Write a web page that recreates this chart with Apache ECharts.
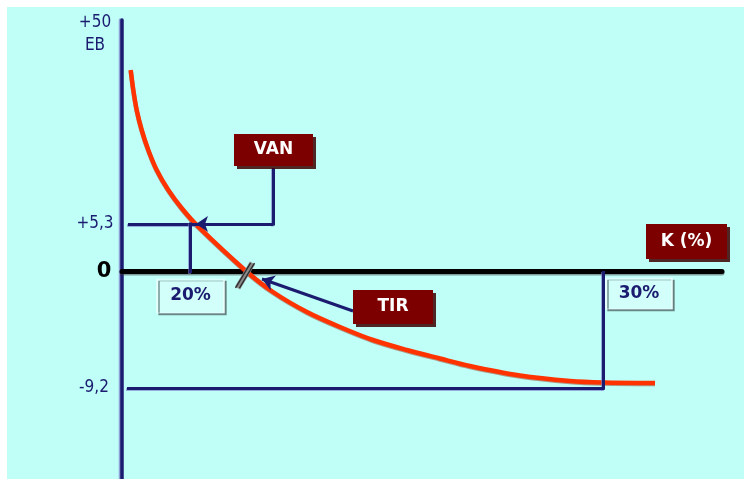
<!DOCTYPE html>
<html>
<head>
<meta charset="utf-8">
<script src="https://cdn.jsdelivr.net/npm/echarts@6/dist/echarts.min.js"></script>
<style>
  html, body { margin: 0; padding: 0; background: #ffffff; }
  #chart { position: absolute; left: 7px; top: 7px; width: 737px; height: 472px; }
</style>
</head>
<body>
<div id="chart"></div>
<script>
// VAN (net present value) against the discount rate K, drawn in schematic diagram units:
// x grows to the right from the EB axis, y grows upward from the zero line.
const curveK   = [8.7, 11.3, 14.7, 19.7, 26.3, 34.7, 46.3, 60, 76.3, 124, 151, 185, 218, 251, 285, 318, 348, 398, 448, 481, 533];
const curveVan = [201, 181, 161, 141, 121, 101, 81, 62.5, 44.3, 0, -21, -41, -56, -69, -79, -87.5, -95, -104.5, -110, -111.5, -112];

// Reference levels of the diagram
const vanAt20 = 47;     // level marked +5,3
const vanAt30 = -117;   // level marked -9,2
const k20 = 68;         // rate marked 20%
const k30 = 481;        // rate marked 30%

// Axis texts and their anchors
const axisTexts   = ['+50', 'EB', '+5,3', '0', '-9,2'];
const axisAnchors = [[-27, 248.5], [-27, 225], [-27, vanAt20], [-18, -1], [-28, vanAt30]];

// Callout boxes
const boxTexts   = ['VAN', 'TIR', 'K (%)', '20%', '30%'];
const boxAnchors = [[151.5, 121], [271, -36], [564.5, 29.5], [68.5, -25], [517, -22.5]];
const boxSizes   = [[79, 32], [80, 34], [81, 35], [67, 34], [66, 31]];
const boxDark    = [true, true, true, false, false];

const navy = '#1b1b6f';

const chart = echarts.init(document.getElementById('chart'), null, { renderer: 'canvas' });

const curveData = curveK.map((k, i) => [k, curveVan[i]]);

// Leader lines without arrows
const leaderSegments = [
  [[151, 103], [151, vanAt20 - 1.5]],
  [[75, vanAt20], [6, vanAt20]],
  [[k20, vanAt20 + 1.5], [k20, -2]],
  [[k30, 0], [k30, vanAt30 - 1.5]],
  [[k30 + 1.5, vanAt30], [5, vanAt30]]
];
// Leader lines ending in an arrow head
const arrowSegments = [
  [[151, vanAt20], [74, vanAt20]],
  [[231, -40], [140, -8]]
];
// Double stroke marking the crossing point (TIR)
const hashSegments = [
  [[113.5, -17], [128.5, 8]],
  [[117.5, -17], [132.5, 8]]
];

const boxData = boxTexts.map((t, i) => {
  const dark = boxDark[i];
  return {
    value: [boxAnchors[i][0], boxAnchors[i][1], t],
    symbolSize: boxSizes[i],
    itemStyle: dark ? {
      color: '#7d0000',
      opacity: 1,
      shadowColor: 'rgba(60,0,0,0.85)',
      shadowBlur: 0,
      shadowOffsetX: 3,
      shadowOffsetY: 3
    } : {
      color: '#d3fffb',
      opacity: 1,
      borderColor: '#eefffe',
      borderWidth: 1,
      shadowColor: 'rgba(95,120,120,0.85)',
      shadowBlur: 0,
      shadowOffsetX: 2,
      shadowOffsetY: 2
    },
    label: {
      color: dark ? '#ffffff' : '#1b1b6f'
    }
  };
});

const option = {
  backgroundColor: '#bffff8',
  animation: false,
  grid: { left: 115, right: 22, top: 13, bottom: 0, containLabel: false },
  xAxis: {
    type: 'value', min: 0, max: 600,
    axisLine: { onZero: true, lineStyle: { color: '#000000', width: 5, cap: 'round',
      shadowColor: 'rgba(60,60,60,0.5)', shadowOffsetY: 1.5, shadowBlur: 0 } },
    axisTick: { show: false }, axisLabel: { show: false }, splitLine: { show: false }
  },
  yAxis: {
    type: 'value', min: -208, max: 251,
    axisLine: { show: true, onZero: false, lineStyle: { color: navy, width: 3.5,
      shadowColor: 'rgba(120,120,200,0.7)', shadowOffsetX: -1.5, shadowBlur: 0 } },
    axisTick: { show: false }, axisLabel: { show: false }, splitLine: { show: false }
  },
  series: [
    {
      name: 'VAN',
      type: 'line',
      data: curveData,
      smooth: 0.3,
      symbol: 'none',
      clip: false,
      lineStyle: { color: '#ff3300', width: 4.5,
        shadowColor: 'rgba(150,30,0,0.45)', shadowOffsetY: 1, shadowBlur: 0 },
      z: 3
    },
    {
      type: 'lines',
      coordinateSystem: 'cartesian2d',
      symbol: ['none', 'none'],
      lineStyle: { color: navy, width: 3, opacity: 1, curveness: 0,
        shadowColor: 'rgba(120,120,200,0.6)', shadowOffsetY: 1, shadowOffsetX: -1, shadowBlur: 0 },
      data: leaderSegments.map(c => ({ coords: c })),
      z: 4
    },
    {
      type: 'lines',
      coordinateSystem: 'cartesian2d',
      symbol: ['none', 'arrow'],
      symbolSize: 12,
      lineStyle: { color: navy, width: 3, opacity: 1, curveness: 0 },
      data: arrowSegments.map(c => ({ coords: c })),
      z: 5
    },
    {
      type: 'lines',
      coordinateSystem: 'cartesian2d',
      symbol: ['none', 'none'],
      lineStyle: { color: '#8a8a8a', width: 6, opacity: 1, curveness: 0 },
      data: [{ coords: [[115.5, -17], [130.5, 8]] }],
      z: 5
    },
    {
      type: 'lines',
      coordinateSystem: 'cartesian2d',
      symbol: ['none', 'none'],
      lineStyle: { color: '#2a2a2a', width: 1.4, opacity: 1, curveness: 0 },
      data: hashSegments.map(c => ({ coords: c })),
      z: 6
    },
    {
      type: 'scatter',
      clip: false,
      symbol: 'rect',
      data: boxData,
      itemStyle: { opacity: 1 },
      label: {
        show: true,
        position: 'inside',
        formatter: p => p.value[2],
        fontFamily: 'DejaVu Sans',
        fontWeight: 'bold',
        fontSize: 17
      },
      emphasis: { disabled: true },
      z: 8
    },
    {
      type: 'scatter',
      clip: false,
      symbolSize: 0,
      itemStyle: { opacity: 1 },
      data: axisTexts.map((t, i) => ({
        value: [axisAnchors[i][0], axisAnchors[i][1], t],
        label: t === '0'
          ? { fontSize: 21, fontWeight: 'bold', color: '#000000', fontFamily: 'DejaVu Sans' }
          : {}
      })),
      label: {
        show: true,
        position: 'inside',
        formatter: p => p.value[2],
        fontFamily: 'DejaVu Sans Condensed, DejaVu Sans',
        fontSize: 17,
        color: navy
      },
      emphasis: { disabled: true },
      z: 8
    }
  ]
};

chart.setOption(option);
</script>
</body>
</html>
